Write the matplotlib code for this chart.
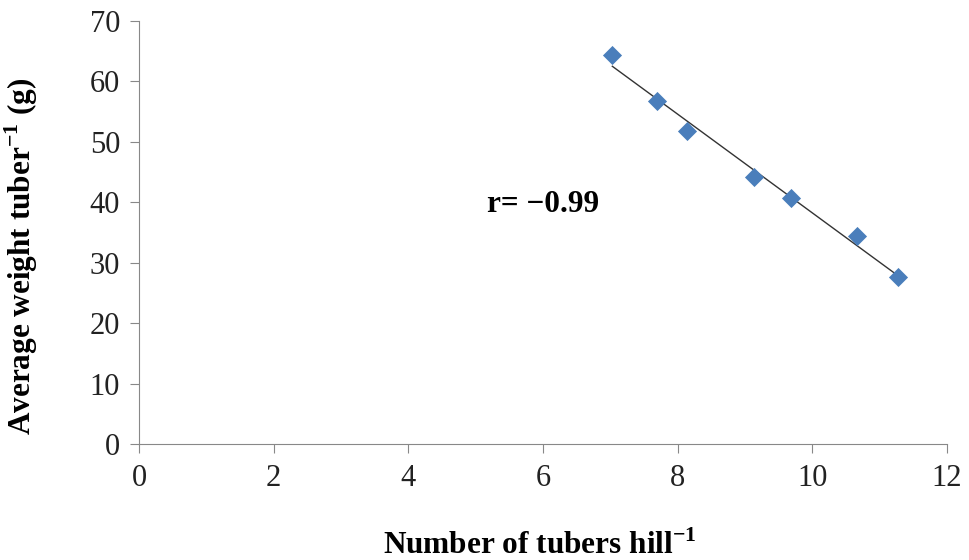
import numpy as np
import matplotlib
matplotlib.use('Agg')
import matplotlib.pyplot as plt

# values
tubers_per_hill = [7.03, 7.69, 8.14, 9.13, 9.68, 10.66, 11.27]
weight_per_tuber = [64.4, 56.8, 51.8, 44.2, 40.7, 34.4, 27.7]
x_ticks = [0, 2, 4, 6, 8, 10, 12]
y_ticks = [0, 10, 20, 30, 40, 50, 60, 70]

plt.rcParams['font.family'] = ['Liberation Serif', 'DejaVu Serif']
plt.rcParams['mathtext.fontset'] = 'custom'
plt.rcParams['mathtext.rm'] = 'Liberation Serif'
plt.rcParams['mathtext.bf'] = 'Liberation Serif:bold'

fig = plt.figure(figsize=(9.69, 5.6), dpi=100)
ax = fig.add_axes([0.1434, 0.2071, 0.8339, 0.7554])

ax.scatter(tubers_per_hill, weight_per_tuber, marker='D', s=95,
           color='#4a7ebb', zorder=3, linewidths=0)

# linear fit line over data range
x = np.array(tubers_per_hill)
slope, intercept = np.polyfit(x, np.array(weight_per_tuber), 1)
xs = np.array([x.min(), x.max()])
ax.plot(xs, slope * xs + intercept, color='#333333', lw=1.0, zorder=2)

ax.text(5.17, 39.7, 'r= \u22120.99', fontsize=22.5, fontweight='bold',
        va='center', ha='left')

ax.set_xlim(0, 12)
ax.set_ylim(0, 70)
ax.set_xticks(x_ticks)
ax.set_yticks(y_ticks)

for side in ('top', 'right'):
    ax.spines[side].set_visible(False)
for side in ('left', 'bottom'):
    ax.spines[side].set_color('#888888')
ax.tick_params(colors='#888888', labelcolor='#222222', length=6.5,
               labelsize=22, direction='out')
ax.tick_params(axis='y', pad=7)
ax.tick_params(axis='x', pad=8)

ax.set_xlabel(r'Number of tubers hill$^{\mathbf{-1}}$', fontsize=22.5,
              fontweight='bold')
ax.set_ylabel(r'Average weight tuber$^{\mathbf{-1}}$ (g)', fontsize=22.5,
              fontweight='bold')
ax.xaxis.set_label_coords(0.496, -0.205)
ax.yaxis.set_label_coords(-0.1225, 0.445)

fig.savefig('out.png', dpi=100)
